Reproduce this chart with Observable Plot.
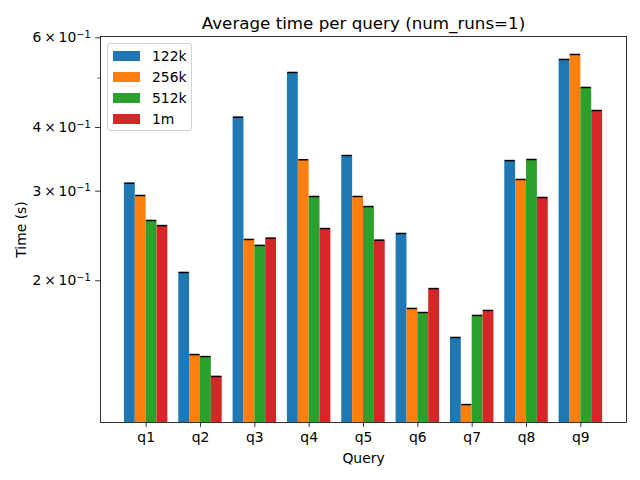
<!DOCTYPE html>
<html>
<head>
<meta charset="utf-8">
<script src="https://cdn.jsdelivr.net/npm/d3@7"></script>
<script src="https://cdn.jsdelivr.net/npm/@observablehq/plot@0.6"></script>
<style>
  body { margin: 0; background: #fff; }
  #wrap { position: relative; width: 640px; height: 480px; font-family: "DejaVu Sans", sans-serif; }
  #wrap svg { position: absolute; left: 0; top: 0; }
  #legend { position: absolute; left: 107px; top: 43px; width: 85px; height: 88px; box-sizing: border-box;
            border: 1px solid #d0d0d0; border-radius: 3px; background: rgba(255,255,255,0.8); }
  .row { position: absolute; left: 5px; height: 20px; display: flex; align-items: center; font-size: 13.9px; color: #000; }
  .sw { width: 27px; height: 10px; margin-right: 12px; }
</style>
</head>
<body>
<div id="wrap"><div id="legend"></div></div>
<script>
const title = "Average time per query (num_runs=1)";
const queries = ["q1", "q2", "q3", "q4", "q5", "q6", "q7", "q8", "q9"];
const series = ["122k", "256k", "512k", "1m"];
const t122k = [0.3109, 0.2077, 0.4190, 0.5129, 0.3524, 0.2477, 0.1548, 0.3444, 0.5440];
const t256k = [0.2941, 0.1433, 0.2411, 0.3457, 0.2928, 0.1765, 0.1143, 0.3162, 0.5564];
const t512k = [0.2627, 0.1420, 0.2347, 0.2928, 0.2798, 0.1733, 0.1710, 0.3461, 0.4793];
const t1m   = [0.2567, 0.1298, 0.2425, 0.2533, 0.2403, 0.1931, 0.1749, 0.2915, 0.4319];
const colors = ["#1f77b4", "#ff7f0e", "#2ca02c", "#d62728"];
const yTicks = [0.2, 0.3, 0.4, 0.6];
const yTickLabels = ["2\u2009×\u200910^−1", "3\u2009×\u200910^−1", "4\u2009×\u200910^−1", "6\u2009×\u200910^−1"];
const yMinorTicks = [0.5];
const yDomain = [0.1054, 0.6035];
const barWidth = 0.2;

const seriesValues = [t122k, t256k, t512k, t1m];
const rows = [];
queries.forEach((q, i) => series.forEach((s, j) => {
  rows.push({query: q, qi: i, series: s, sj: j, value: seriesValues[j][i]});
}));
const left = d => d.qi + (d.sj - 2) * barWidth;
const right = d => d.qi + (d.sj - 1) * barWidth;
const mid = d => d.qi + (d.sj - 1.5) * barWidth;

const chart = Plot.plot({
  width: 640,
  height: 480,
  marginLeft: 100,
  marginRight: 14,
  marginTop: 36,
  marginBottom: 58,
  style: {fontFamily: "DejaVu Sans, sans-serif", fontSize: "13.9px", background: "white", color: "black"},
  x: {type: "linear", domain: [-0.84, 8.84]},
  y: {type: "log", domain: yDomain},
  color: {domain: series, range: colors},
  marks: [
    Plot.rect(rows, {x1: left, x2: right, y1: () => yDomain[0], y2: "value", fill: "series"}),
    Plot.ruleY(rows, {y: "value", x1: d => mid(d) - 0.092, x2: d => mid(d) + 0.092, stroke: "black", strokeWidth: 1.5}),
    Plot.axisX({ticks: d3.range(queries.length), tickFormat: i => queries[i], tickSize: 4.9, tickPadding: 4.9,
                strokeWidth: 0.8, label: "Query", labelArrow: "none", labelAnchor: "center", labelOffset: 40}),
    Plot.axisY({ticks: yTicks, tickFormat: v => yTickLabels[yTicks.indexOf(v)], tickSize: 4.9, tickPadding: 4.9,
                strokeWidth: 0.8, label: "Time (s)", labelArrow: "none", labelAnchor: "center", labelOffset: 84}),
    Plot.axisY({ticks: yMinorTicks, tickFormat: () => "", tickSize: 2.8, strokeWidth: 0.6, label: null}),
    Plot.frame({stroke: "black", strokeWidth: 0.8}),
    Plot.text([title], {frameAnchor: "top", dy: -8, lineAnchor: "bottom", text: d => d, fontSize: 16.7})
  ]
});
document.getElementById("wrap").prepend(chart);

// render "a × 10^b" tick labels with a real superscript
d3.select(chart).selectAll("text").each(function () {
  const el = d3.select(this);
  const txt = this.textContent;
  if (txt.includes("^") && this.children.length === 0) {
    const [base, exp] = txt.split("^");
    el.text(null);
    el.append("tspan").text(base);
    el.append("tspan").attr("font-size", "9.8px").attr("dy", "-0.45em").text(exp);
  }
});

const legend = document.getElementById("legend");
series.forEach((s, j) => {
  const row = document.createElement("div");
  row.className = "row";
  row.style.top = (2 + j * 21) + "px";
  const sw = document.createElement("div");
  sw.className = "sw";
  sw.style.background = colors[j];
  const label = document.createElement("span");
  label.textContent = s;
  row.append(sw, label);
  legend.append(row);
});
</script>
</body>
</html>
